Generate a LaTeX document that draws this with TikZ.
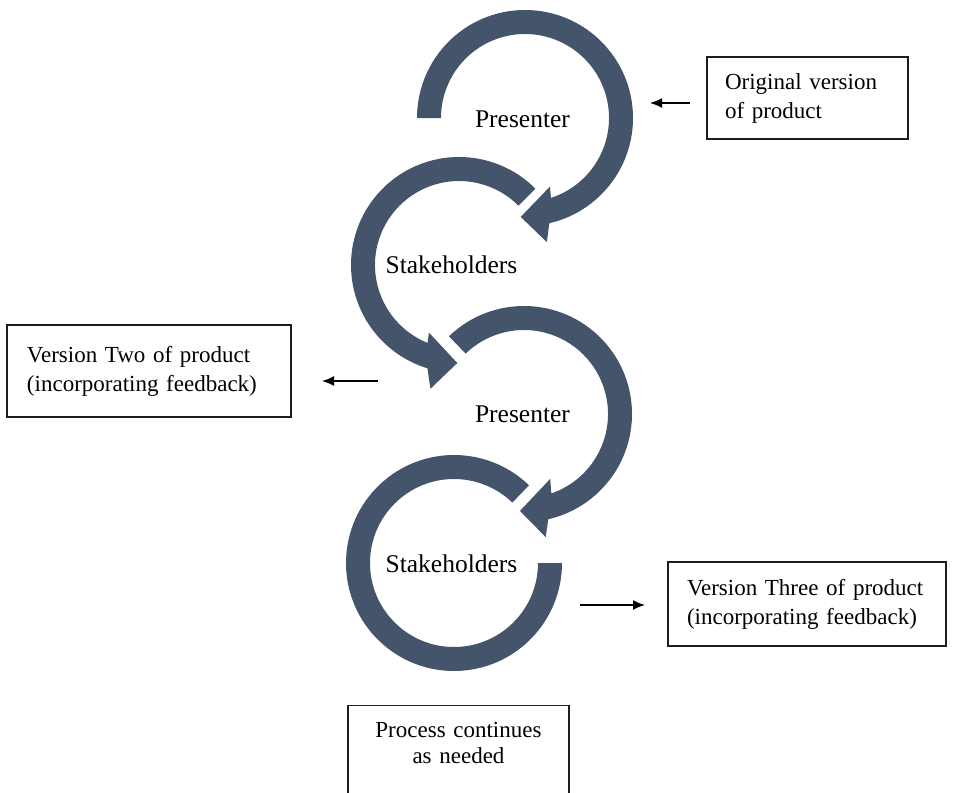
\documentclass[tikz,border=0pt]{standalone}
\usepackage{fontspec}
\setmainfont{Liberation Serif}
\usetikzlibrary{calc,arrows.meta}
\definecolor{arcblue}{RGB}{68,84,106}
\definecolor{boxline}{RGB}{30,30,30}
\tikzset{
  arcshape/.style={fill=arcblue},
  lbl/.style={inner sep=0pt, font=\fontsize{25.5}{30}\selectfont, text=black},
  infobox/.style={draw=boxline, line width=1.4pt, fill=white, inner ysep=4pt,
    font=\fontsize{23}{29}\selectfont, align=left},
  pointer/.style={draw=black, line width=1.5pt, -{Latex[length=12pt,width=10pt]}}
}
\begin{document}
\begin{tikzpicture}[x=1pt,y=1pt]
\useasboundingbox (0,0) rectangle (962,-793);
\clip (0,0) rectangle (962,-793);
\coordinate (c1) at (525,-118);
\coordinate (c2) at (459,-265);
\coordinate (c3) at (524,-414);
\coordinate (c4) at (454,-563);
% circle 4 (Stakeholders, bottom)
\fill[arcshape] ($(c4)+(46:108)$) arc[start angle=46, end angle=360, radius=108]
  -- ($(c4)+(0:84)$) arc[start angle=360, end angle=46, radius=84] -- cycle;
% circle 3 (Presenter, middle)
\fill[arcshape] ($(c3)+(134:108)$) arc[start angle=134, end angle=-77, radius=108]
  -- ($(c3)+(-80:125)$) -- ($(c3)+(-92.4:97)$) -- ($(c3)+(-68:70)$)
  -- ($(c3)+(-71:84)$) arc[start angle=-71, end angle=134, radius=84] -- cycle;
% circle 2 (Stakeholders, top)
\fill[arcshape] ($(c2)+(45:108)$) arc[start angle=45, end angle=253, radius=108]
  -- ($(c2)+(257:127)$) -- ($(c2)+(269:98)$) -- ($(c2)+(246:74)$)
  -- ($(c2)+(248:84)$) arc[start angle=248, end angle=45, radius=84] -- cycle;
% circle 1 (Presenter, top)
\fill[arcshape] ($(c1)+(180:108)$) arc[start angle=180, end angle=-77, radius=108]
  -- ($(c1)+(-80:126)$) -- ($(c1)+(-92.5:99)$) -- ($(c1)+(-70:73)$)
  -- ($(c1)+(-72:84)$) arc[start angle=-72, end angle=180, radius=84] -- cycle;
% labels
\node[lbl, anchor=base] (p1) at (522.5,-127) {Presenter};
\node[lbl, anchor=base] (s1) at (451.5,-273) {Stakeholders};
\node[lbl, anchor=base] (p2) at (522.5,-422) {Presenter};
\node[lbl, anchor=base] (s2) at (451.5,-572) {Stakeholders};
% boxes
\node[infobox, inner xsep=18pt, text width=165pt, minimum height=82pt] (b1) at (807.5,-98)
  {Original version\\of product};
\node[infobox, inner xsep=20pt, text width=244pt, minimum height=92pt] (b2) at (149,-371)
  {Version Two of product\\(incorporating feedback)};
\node[infobox, inner xsep=19pt, text width=240pt, minimum height=84pt] (b3) at (807,-604)
  {Version Three of product\\(incorporating feedback)};
\node[infobox, anchor=north, align=center, inner xsep=10pt, inner ysep=17pt, text width=201pt,
  font=\fontsize{23}{26}\selectfont, text depth=60pt] (b4) at (458.5,-705)
  {Process continues\\as needed};
% pointers
\coordinate (a1s) at (690,-103); \coordinate (a1e) at (650,-103);
\coordinate (a2s) at (378,-381); \coordinate (a2e) at (322,-381);
\coordinate (a3s) at (580,-605); \coordinate (a3e) at (645,-605);
\draw[pointer] (a1s) -- (a1e);
\draw[pointer] (a2s) -- (a2e);
\draw[pointer] (a3s) -- (a3e);
\end{tikzpicture}
\end{document}
